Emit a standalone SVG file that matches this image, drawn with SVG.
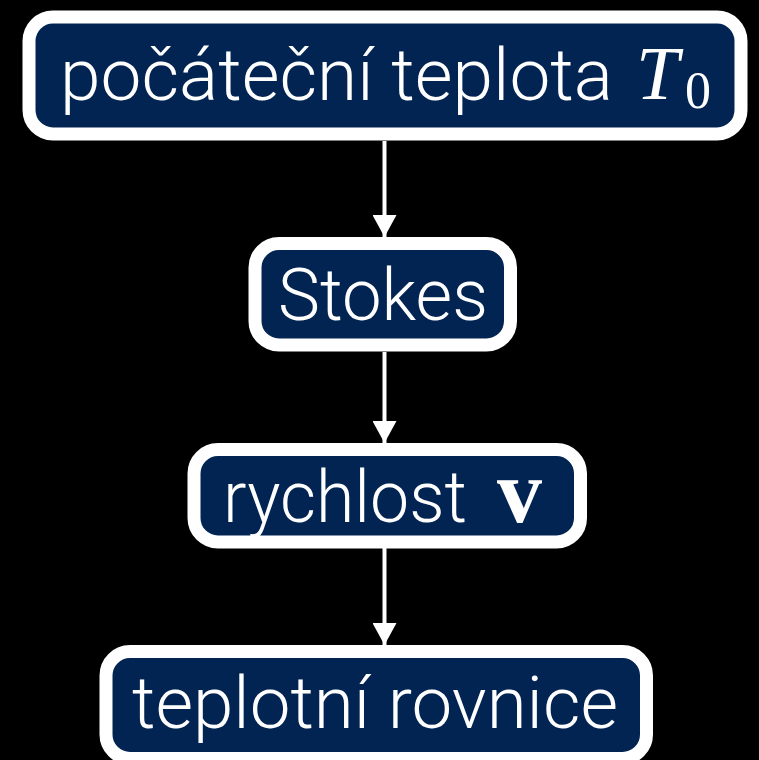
<svg xmlns="http://www.w3.org/2000/svg" width="759" height="760" viewBox="0 0 759 760">
  <defs>
    <marker id="head" markerUnits="userSpaceOnUse" markerWidth="22" markerHeight="24" refX="22" refY="12" orient="auto" viewBox="0 0 22 24">
      <path d="M0,0 L22,12 L0,24 Z" fill="#ffffff"/>
    </marker>
    <style>
      .box { fill: #022453; stroke: #ffffff; stroke-width: 13; }
      .lbl { fill: #ffffff; font-family: Roboto, "Liberation Sans", sans-serif; font-weight: 300; font-size: 72px; }
      .math { fill: #ffffff; font-family: "Liberation Serif", "DejaVu Serif", serif; }
      .edge { stroke: #ffffff; stroke-width: 4; fill: none; marker-end: url(#head); }
    </style>
  </defs>
  <rect width="759" height="760" fill="#000000"/>

  <g id="connectors">
    <line class="edge" x1="384.5" y1="141" x2="384.5" y2="237"/>
    <line class="edge" x1="384.5" y1="352" x2="384.5" y2="443"/>
    <line class="edge" x1="384.5" y1="548" x2="384.5" y2="645"/>
  </g>

  <g id="node-initial-temperature">
    <rect class="box" x="29" y="17" width="712" height="117" rx="24"/>
    <text class="lbl" x="60" y="100" textLength="553" lengthAdjust="spacingAndGlyphs">počáteční teplota</text>
    <text class="math" x="636" y="99" font-size="77" font-style="italic">T</text>
    <text class="math" x="685" y="108" font-size="52">0</text>
  </g>

  <g id="node-stokes">
    <rect class="box" x="255" y="243.5" width="255.5" height="101.5" rx="24"/>
    <text class="lbl" x="278" y="320" textLength="210" lengthAdjust="spacingAndGlyphs">Stokes</text>
  </g>

  <g id="node-velocity">
    <rect class="box" x="194" y="449.5" width="386.5" height="92.5" rx="24"/>
    <text class="lbl" x="223" y="522" textLength="244" lengthAdjust="spacingAndGlyphs">rychlost</text>
    <text class="math" x="497" y="522" font-size="90" font-weight="bold">v</text>
  </g>

  <g id="node-heat-equation">
    <rect class="box" x="106" y="651.5" width="540.5" height="107" rx="24"/>
    <text class="lbl" x="132" y="728" textLength="486" lengthAdjust="spacingAndGlyphs">teplotní rovnice</text>
  </g>
</svg>
